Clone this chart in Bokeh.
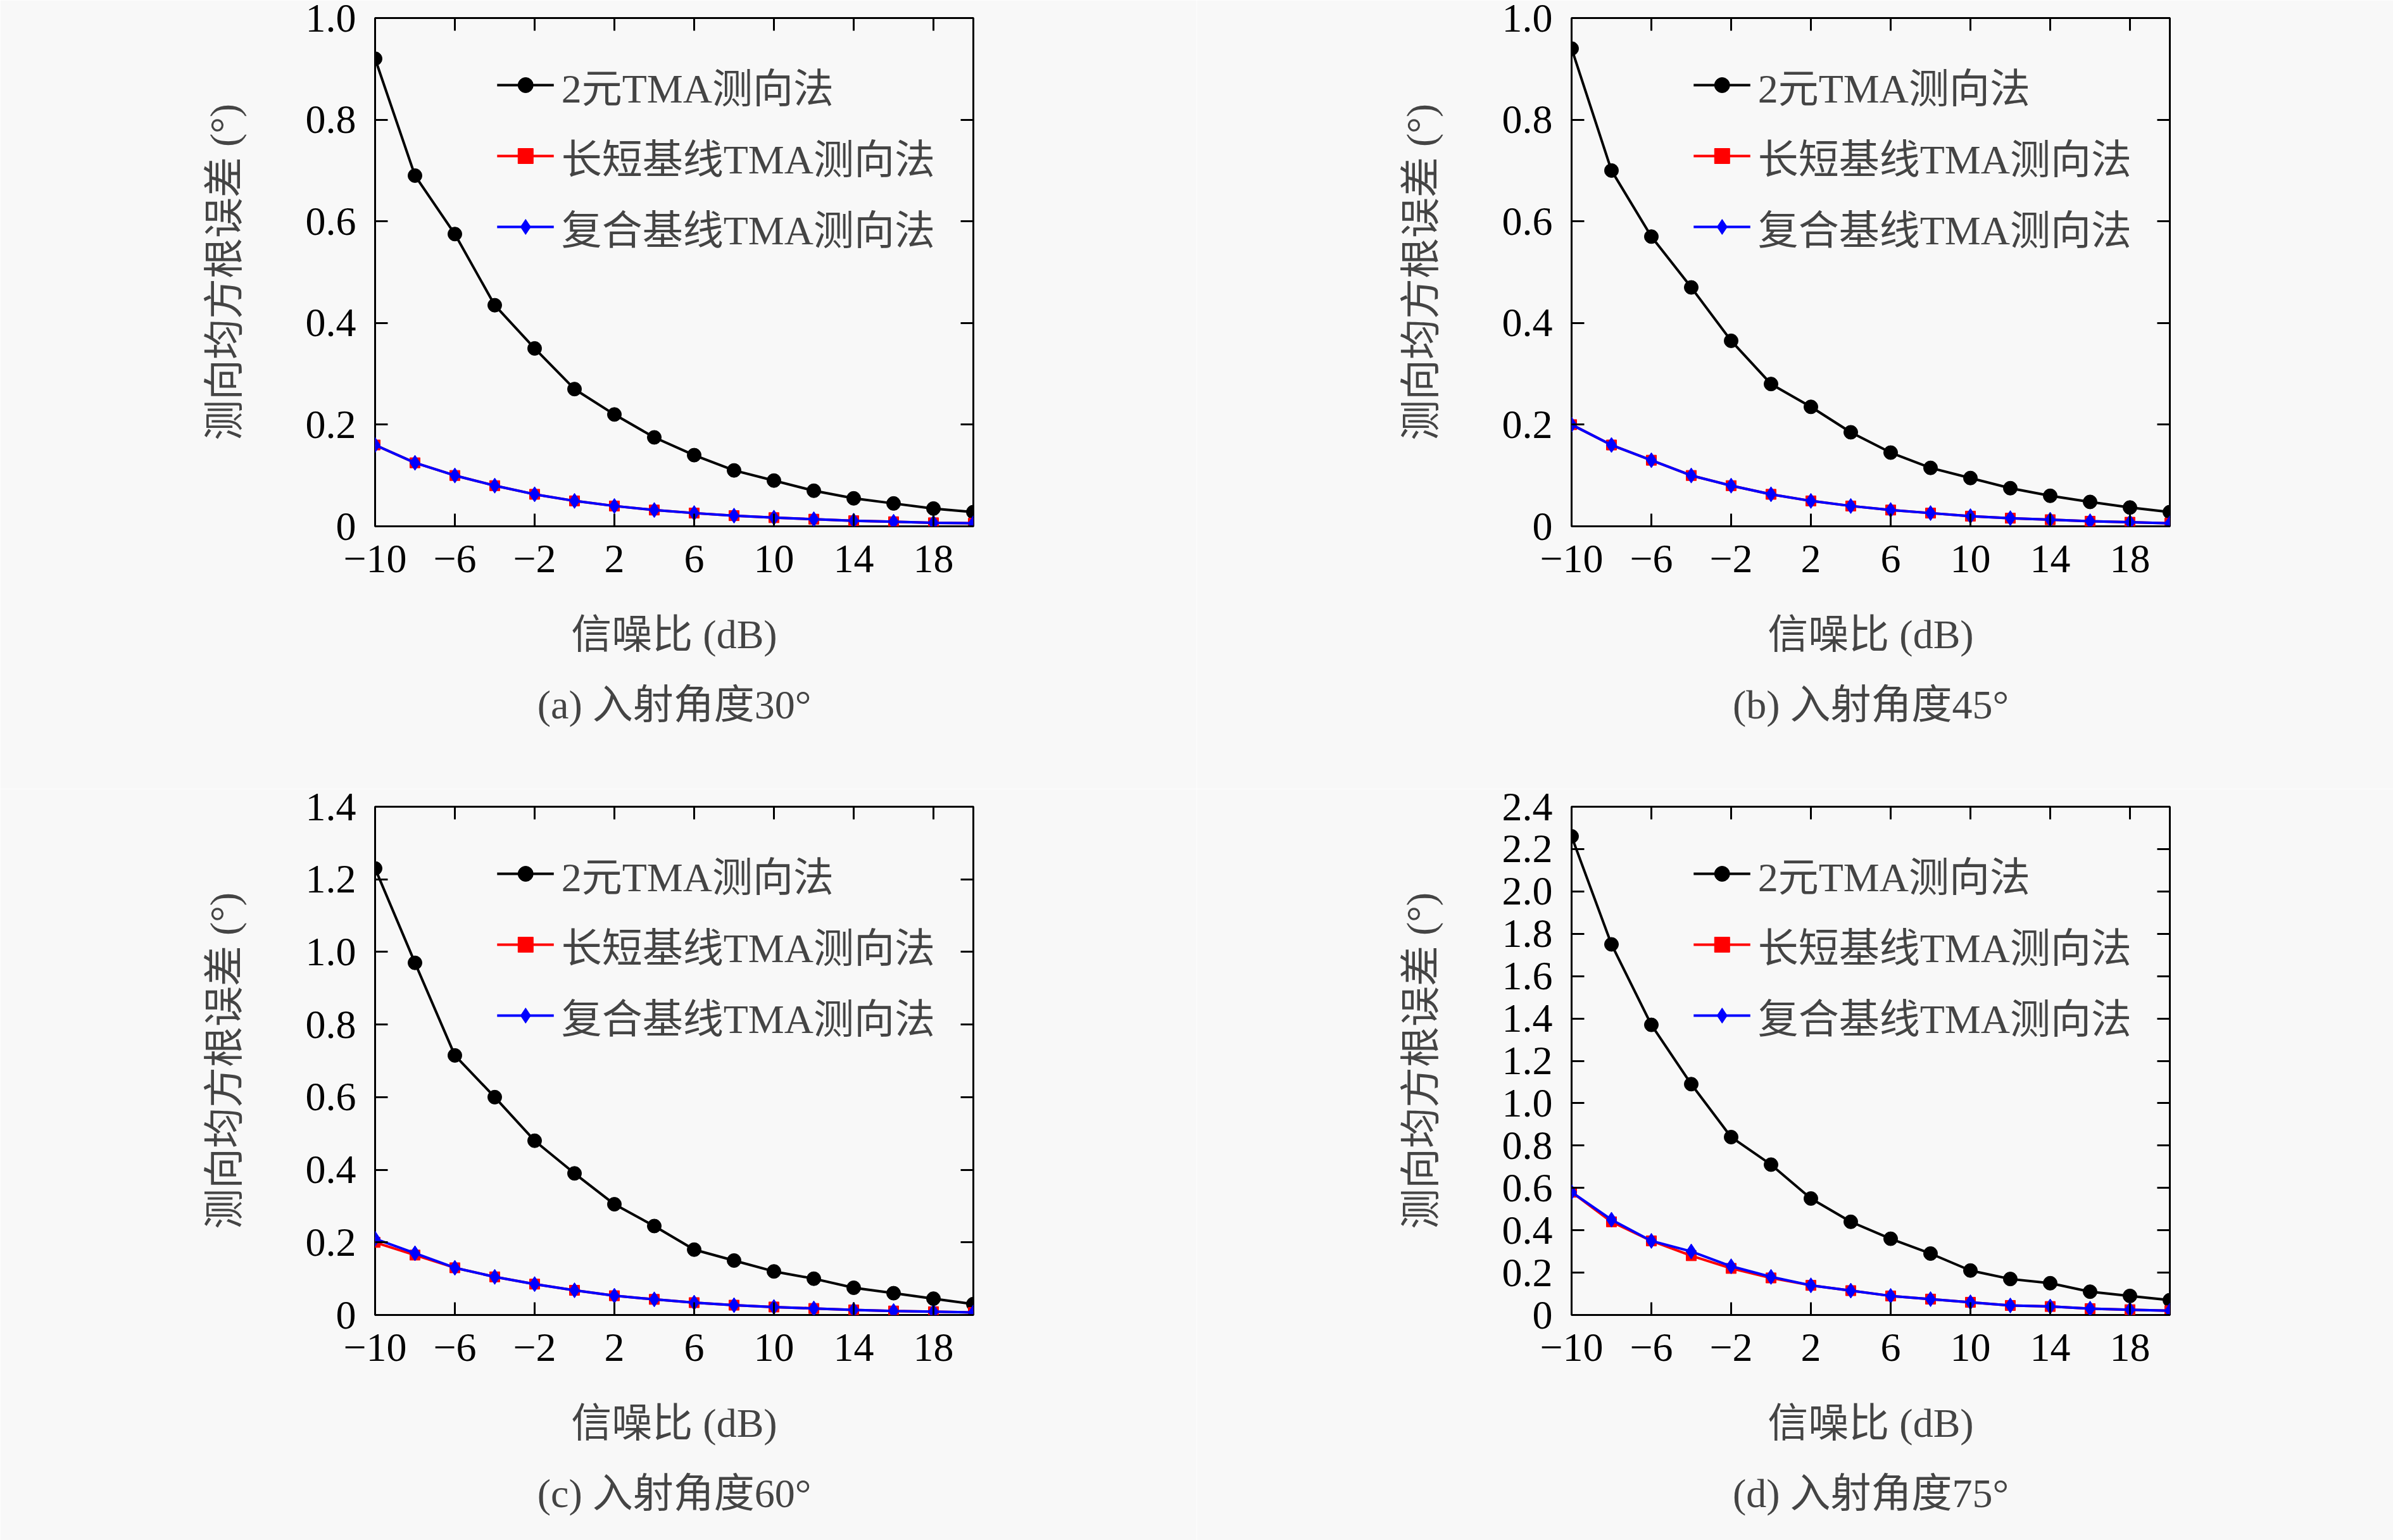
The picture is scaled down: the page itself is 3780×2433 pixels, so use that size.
from bokeh.plotting import figure
from bokeh.layouts import gridplot
from bokeh.models import LinearAxis, FixedTicker, Title, Range1d, Legend
from bokeh.embed import file_html
from bokeh.resources import INLINE

snr = [-10, -8, -6, -4, -2, 0, 2, 4, 6, 8, 10, 12, 14, 16, 18, 20]

a_2 = [0.92, 0.69, 0.575, 0.435, 0.35, 0.27, 0.22, 0.175, 0.14, 0.11, 0.09, 0.07, 0.055, 0.045, 0.035, 0.028]
a_ls = [0.16, 0.125, 0.1, 0.08, 0.063, 0.05, 0.04, 0.032, 0.026, 0.021, 0.017, 0.014, 0.011, 0.009, 0.007, 0.006]
a_c = [0.16, 0.125, 0.1, 0.08, 0.063, 0.05, 0.04, 0.032, 0.026, 0.021, 0.017, 0.014, 0.011, 0.009, 0.007, 0.006]

b_2 = [0.94, 0.70, 0.57, 0.47, 0.365, 0.28, 0.235, 0.185, 0.145, 0.115, 0.095, 0.075, 0.06, 0.048, 0.037, 0.028]
b_ls = [0.2, 0.16, 0.13, 0.1, 0.08, 0.063, 0.05, 0.04, 0.032, 0.026, 0.02, 0.016, 0.013, 0.01, 0.008, 0.006]
b_c = [0.2, 0.16, 0.13, 0.1, 0.08, 0.063, 0.05, 0.04, 0.032, 0.026, 0.02, 0.016, 0.013, 0.01, 0.008, 0.006]

c_2 = [1.23, 0.97, 0.715, 0.6, 0.48, 0.39, 0.305, 0.245, 0.18, 0.15, 0.12, 0.1, 0.075, 0.06, 0.045, 0.03]
c_ls = [0.2, 0.165, 0.13, 0.105, 0.085, 0.068, 0.053, 0.043, 0.034, 0.027, 0.022, 0.018, 0.014, 0.011, 0.009, 0.007]
c_c = [0.21, 0.17, 0.13, 0.105, 0.085, 0.068, 0.053, 0.043, 0.034, 0.027, 0.022, 0.018, 0.014, 0.011, 0.009, 0.007]

d_2 = [2.26, 1.75, 1.37, 1.09, 0.84, 0.71, 0.55, 0.44, 0.36, 0.29, 0.21, 0.17, 0.15, 0.11, 0.09, 0.07]
d_ls = [0.58, 0.44, 0.35, 0.28, 0.22, 0.175, 0.14, 0.115, 0.09, 0.075, 0.06, 0.045, 0.04, 0.03, 0.025, 0.02]
d_c = [0.58, 0.45, 0.35, 0.3, 0.23, 0.18, 0.14, 0.115, 0.09, 0.075, 0.06, 0.045, 0.04, 0.03, 0.025, 0.02]

x_ticks = [-10, -6, -2, 2, 6, 10, 14, 18]
captions = ["(a) 入射角度30°", "(b) 入射角度45°", "(c) 入射角度60°", "(d) 入射角度75°"]
names = ["2元TMA测向法", "长短基线TMA测向法", "复合基线TMA测向法"]

FONT = "'Liberation Serif', 'Noto Sans CJK SC'"
FS = "64px"

def fmt(v):
    return "0" if v == 0 else f"{v:.1f}"

def panel(cap, s2, sls, sc, ymax, ystep):
    yt = [round(i * ystep, 2) for i in range(int(round(ymax / ystep)) + 1)]
    p = figure(width=1890, height=1246, output_backend="svg", toolbar_location=None,
               x_range=Range1d(-10, 20), y_range=Range1d(0, ymax),
               min_border_left=592, min_border_right=353, min_border_top=28, min_border_bottom=415,
               background_fill_color="#f8f8f8", border_fill_color="#f8f8f8")
    p.grid.visible = False
    p.outline_line_color = "black"
    p.outline_line_width = 3
    r1 = p.line(snr, s2, color="black", line_width=4)
    m1 = p.scatter(snr, s2, color="black", size=22, marker="circle")
    r2 = p.line(snr, sls, color="red", line_width=4)
    m2 = p.scatter(snr, sls, color="red", size=16, marker="square")
    r3 = p.line(snr, sc, color="blue", line_width=4)
    m3 = p.scatter(snr, sc, color="blue", size=24, marker="diamond")
    leg = Legend(items=[(names[0], [r1, m1]), (names[1], [r2, m2]), (names[2], [r3, m3])],
                 location="top_right", border_line_color=None, background_fill_alpha=0,
                 label_text_font=FONT, label_text_font_size=FS, glyph_width=90, glyph_height=60,
                 label_standoff=12, spacing=20, margin=60, padding=10)
    p.add_layout(leg)
    for ax in p.xaxis:
        ax.ticker = FixedTicker(ticks=x_ticks)
        ax.major_label_overrides = {t: (f"−{abs(t)}" if t < 0 else str(t)) for t in x_ticks}
        ax.axis_label = "信噪比 (dB)"
        ax.major_label_standoff = 30
        ax.axis_label_standoff = 60
    for ax in p.yaxis:
        ax.ticker = FixedTicker(ticks=yt)
        ax.major_label_overrides = {t: fmt(t) for t in yt}
        ax.axis_label = "测向均方根误差 (°)"
        ax.major_label_standoff = 30
        ax.axis_label_standoff = 90
    ra = LinearAxis(ticker=FixedTicker(ticks=yt), major_label_overrides={t: "" for t in yt})
    ta = LinearAxis(ticker=FixedTicker(ticks=x_ticks), major_label_overrides={t: "" for t in x_ticks})
    p.add_layout(ra, "right")
    p.add_layout(ta, "above")
    for ax in p.axis:
        ax.axis_line_color = None
        ax.major_tick_in = 20
        ax.major_tick_out = 0
        ax.major_tick_line_width = 3
        ax.minor_tick_line_color = None
        ax.major_label_text_font = FONT
        ax.major_label_text_font_size = FS
        ax.axis_label_text_font = FONT
        ax.axis_label_text_font_size = FS
        ax.axis_label_text_font_style = "normal"
        ax.major_label_text_color = "black"
    ra.major_label_text_font_size = "1px"
    ta.major_label_text_font_size = "1px"
    p.add_layout(Title(text=cap, align="center", text_font=FONT, text_font_size=FS,
                       text_font_style="normal", offset=0, standoff=70), "below")
    return p

pa = panel(captions[0], a_2, a_ls, a_c, 1.0, 0.2)
pb = panel(captions[1], b_2, b_ls, b_c, 1.0, 0.2)
pc = panel(captions[2], c_2, c_ls, c_c, 1.4, 0.2)
pd = panel(captions[3], d_2, d_ls, d_c, 2.4, 0.2)

g = gridplot([[pa, pb], [pc, pd]], toolbar_location=None)
open("out.html", "w").write(file_html(g, INLINE))
